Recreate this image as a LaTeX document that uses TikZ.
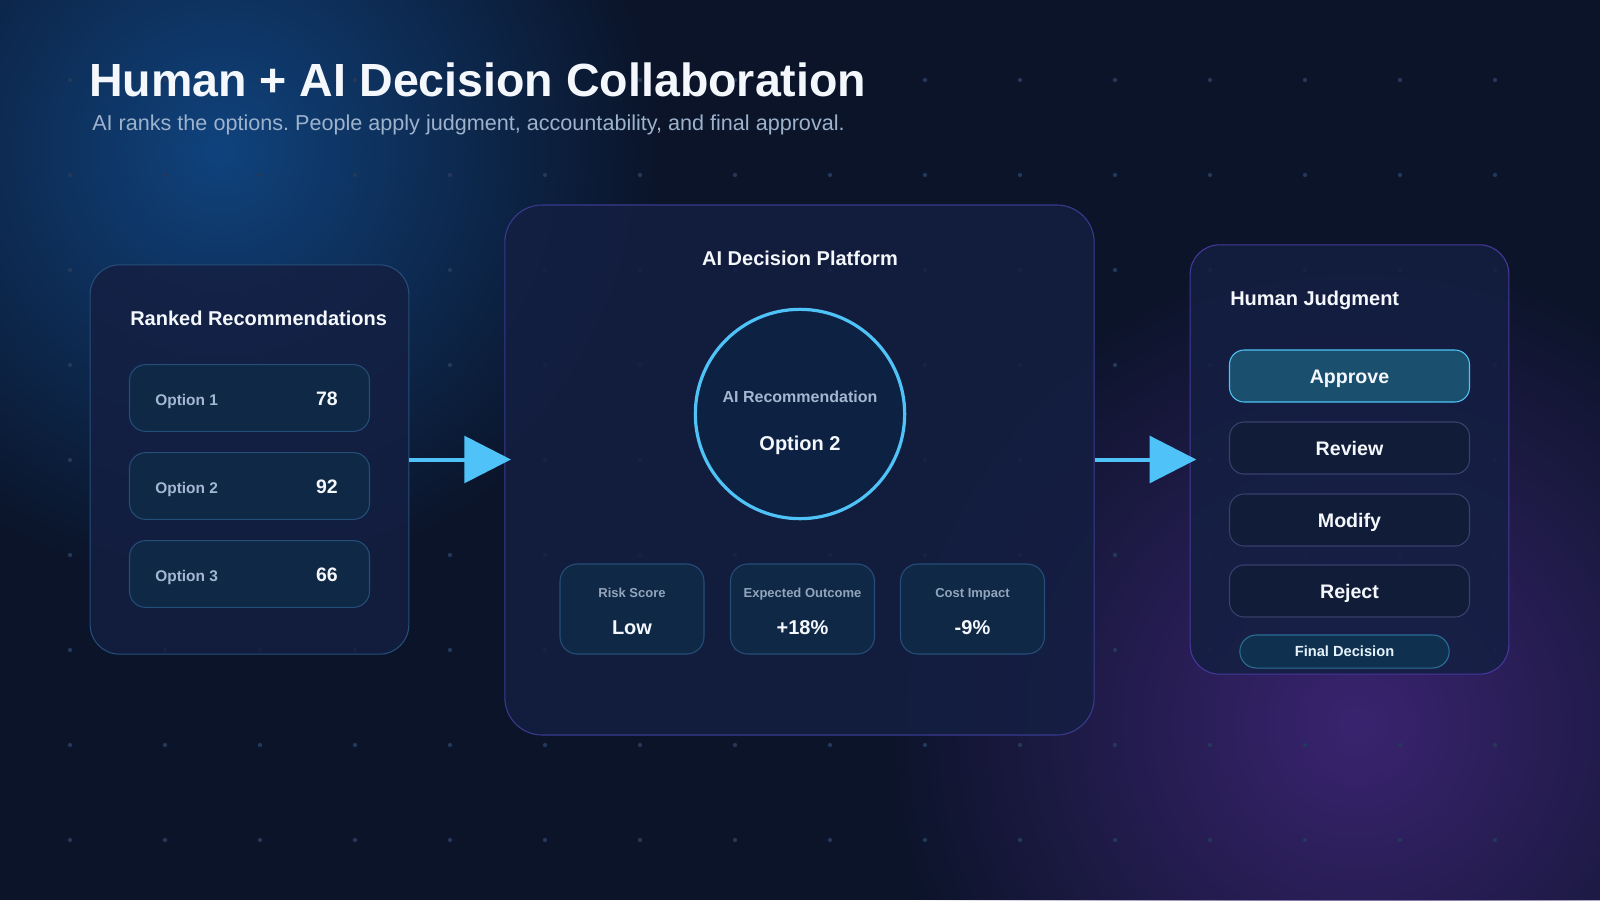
\documentclass[tikz,border=0pt]{standalone}
\usepackage{fontspec}
\setmainfont{Liberation Sans}
\frenchspacing
\usetikzlibrary{positioning,arrows.meta,fadings}

\definecolor{bgbase}{HTML}{0B1429}
\definecolor{glowblue}{HTML}{10437D}
\definecolor{glowpurple}{HTML}{3A2470}
\definecolor{dotc}{HTML}{24395A}
\definecolor{panelfill}{HTML}{141F42}
\definecolor{edgeblue}{HTML}{244E78}
\definecolor{edgepurple}{HTML}{3A3A8E}
\definecolor{edgeviolet}{HTML}{46389A}
\definecolor{boxfill}{HTML}{0F2846}
\definecolor{accent}{HTML}{4FC3F7}
\definecolor{softtext}{HTML}{A3B7D1}
\definecolor{subtext}{HTML}{9DB2CC}
\definecolor{btnfill}{HTML}{111C38}
\definecolor{btnedge}{HTML}{3A3F6C}
\definecolor{approvefill}{HTML}{1A4F6E}
\definecolor{pillfill}{HTML}{10304F}
\definecolor{pilledge}{HTML}{2A6F94}
\definecolor{titlec}{HTML}{F4F7FC}
\definecolor{ringfill}{HTML}{0D2142}

\tikzfading[name=glowfade, inner color=transparent!0, outer color=transparent!100]

\begin{document}
\begin{tikzpicture}[x=0.75pt,y=-0.75pt,
                    panel/.style={draw,line width=0.8pt,fill=panelfill,fill opacity=0.85,rounded corners=22pt,inner sep=0pt},
                    optbox/.style={draw=edgeblue,line width=0.8pt,fill=boxfill,rounded corners=12pt,minimum width=180pt,minimum height=50pt,inner sep=0pt},
                    metric/.style={draw=edgeblue,line width=0.8pt,fill=boxfill,rounded corners=13pt,minimum width=108pt,minimum height=67.5pt,inner sep=0pt},
                    choice/.style={draw=btnedge,line width=0.8pt,fill=btnfill,rounded corners=11pt,minimum width=180pt,minimum height=39pt,inner sep=0pt,
                                   text=titlec,font=\fontsize{14.7}{17}\selectfont\bfseries,text height=10.5pt,text depth=0pt},
                    heading/.style={anchor=base west,inner sep=0pt,text=titlec,font=\fontsize{15}{18}\selectfont\bfseries},
                    lbl/.style={inner sep=0pt,text=softtext,font=\fontsize{11.6}{14}\selectfont\bfseries},
                    score/.style={anchor=base,inner sep=0pt,text=titlec,font=\fontsize{14.6}{17}\selectfont\bfseries},
                    flow/.style={draw=accent,line width=3pt,-{Triangle[length=35pt,width=35pt]},shorten >=-5pt}
                ]
    \useasboundingbox (0,0) rectangle (1600,900);
    \clip (0,0) rectangle (1600,900);
    \fill[bgbase] (0,0) rectangle (1600,900);
    \fill[glowblue,path fading=glowfade] (220,150) circle (330pt);
    \fill[glowpurple,path fading=glowfade] (1357,725) circle (360pt);
    \foreach \x in {70,165,...,1495}
        {
        \foreach \y in {80,175,...,840}
            {
            \fill[dotc] (\x,\y) circle (1.6pt);
            }
        }

    \node[anchor=base west,inner sep=0pt,text=titlec,font=\fontsize{34.9}{40}\selectfont\bfseries] (title) at (89,96) {Human + AI Decision Collaboration};
    \node[anchor=base west,inner sep=0pt,text=subtext,font=\fontsize{16.2}{19}\selectfont] (subtitle) at (92,130) {AI ranks the options. People apply judgment, accountability, and final approval.};

    \node[panel,draw=edgeblue,minimum width=239pt,minimum height=292pt] (rank) at (249.5,459.5) {};
    \node[panel,draw=edgepurple,rounded corners=28pt,minimum width=442pt,minimum height=397.5pt] (plat) at (799.5,470) {};
    \node[panel,draw=edgeviolet,minimum width=239pt,minimum height=322pt] (judge) at (1349.5,459.5) {};

    \node[heading] (ranktitle) at (130,325) {Ranked Recommendations};
    \foreach \i/\s/\y in {1/78/398,2/92/486,3/66/574}
        {
        \node[optbox] (opt\i) at (249.5,\y) {};
        \node[lbl,anchor=base west] (optname\i) at (155,\y+7) {Option \i};
        \node[score] (optscore\i) at (327,\y+7) {\s};
        }

    \node[heading,anchor=base] (plattitle) at (800,265) {AI Decision Platform};
    \node[circle,draw=accent,line width=2.4pt,fill=ringfill,minimum size=157pt,inner sep=0pt] (ring) at (800,414) {};
    \node[lbl,anchor=base,font=\fontsize{12}{14}\selectfont\bfseries] (ringlbl) at (800,402) {AI Recommendation};
    \node[score,font=\fontsize{15}{18}\selectfont\bfseries] (ringpick) at (800,450) {Option 2};
    \foreach \n/\x/\k/\v in {risk/632/Risk Score/Low,gain/802.5/Expected Outcome/+18\%,cost/972.5/Cost Impact/-9\%}
        {
        \node[metric] (\n) at (\x,609) {};
        \node[lbl,anchor=base,text=softtext!90!black,font=\fontsize{9.75}{12}\selectfont\bfseries] (\n lbl) at (\x,597.5) {\k};
        \node[score,font=\fontsize{15}{18}\selectfont\bfseries] (\n val) at (\x,634.5) {\v};
        }

    \node[heading] (judgetitle) at (1230,305) {Human Judgment};
    \node[choice,draw=accent,fill=approvefill] (approve) at (1349.5,376) {Approve};
    \foreach \n/\t/\y in {review/Review/448,modify/Modify/520,reject/Reject/591}
        {
        \node[choice] (\n) at (1349.5,\y) {\t};
        }
    \node[draw=pilledge,line width=0.8pt,fill=pillfill,rounded corners=12.4pt,minimum width=157pt,minimum height=24.8pt,inner sep=0pt,
          text=titlec!90!accent,font=\fontsize{11}{13}\selectfont\bfseries,text height=7.9pt,text depth=0pt] (final) at (1344.5,651.5) {Final Decision};

    \draw[flow] (rank.east) -- (rank.east -| plat.west);
    \draw[flow] (plat.east |- judge.west) -- (judge.west);
\end{tikzpicture}
\end{document}
